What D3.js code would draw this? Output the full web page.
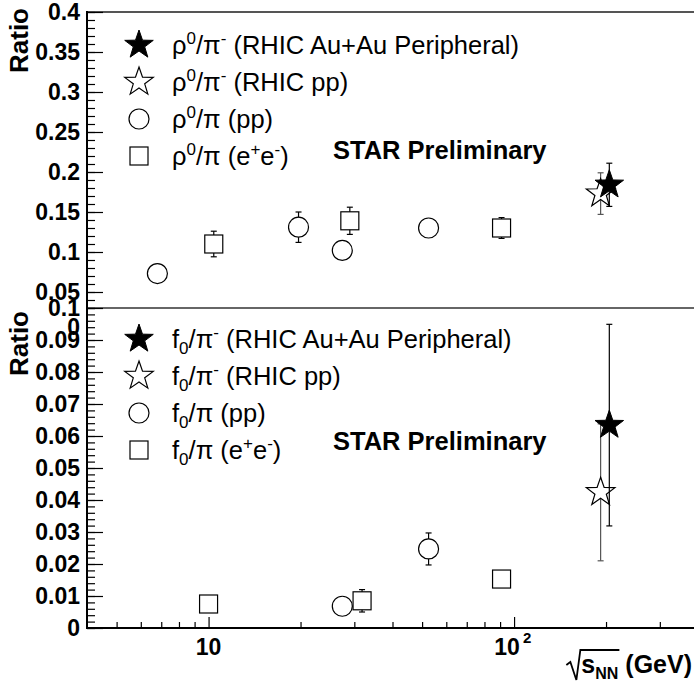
<!DOCTYPE html>
<html>
<head>
<meta charset="utf-8">
<title>rho0/pi and f0/pi ratios</title>
<script src="https://d3js.org/d3.v7.min.js"></script>
<style>
  body { margin: 0; background: #fff; }
  text { font-family: "Liberation Sans", Arial, Helvetica, sans-serif; fill: #000; }
</style>
</head>
<body>
<script>
// ---- top panel: rho0/pi ----
var rhoAuAuX = [205],   rhoAuAuY = [0.184],  rhoAuAuErr = [0.027];
var rhoRhicPpX = [192], rhoRhicPpY = [0.173], rhoRhicPpErr = [0.026];
var rhoPpX = [6.8, 19.7, 27.4, 52.5];
var rhoPpY = [0.073, 0.131, 0.102, 0.130];
var rhoPpErr = [0.003, 0.019, 0.004, 0.004];
var rhoEeX = [10.4, 29, 91];
var rhoEeY = [0.110, 0.139, 0.130];
var rhoEeErr = [0.016, 0.017, 0.013];

// ---- bottom panel: f0/pi ----
var f0AuAuX = [205],   f0AuAuY = [0.0634],  f0AuAuErr = [0.0315];
var f0RhicPpX = [192], f0RhicPpY = [0.0424], f0RhicPpErr = [0.0214];
var f0PpX = [27.4, 52.5];
var f0PpY = [0.0068, 0.0247];
var f0PpErr = [0.0005, 0.005];
var f0EeX = [10, 31.8, 91];
var f0EeY = [0.0075, 0.0085, 0.0153];
var f0EeErr = [0.0005, 0.0035, 0.001];

// ---- axes ----
var topYTicks = [0.05, 0.1, 0.15, 0.2, 0.25, 0.3, 0.35, 0.4];
var botYTicks = [0, 0.01, 0.02, 0.03, 0.04, 0.05, 0.06, 0.07, 0.08, 0.09, 0.1];
var xMajor = [10, 100];
var xMinor = [5, 6, 7, 8, 9, 20, 30, 40, 50, 60, 70, 80, 90, 200, 300];

var topLegend = [
  [["ρ"], ["0", "sup"], ["/π"], ["-", "sup"], [" (RHIC Au+Au Peripheral)"]],
  [["ρ"], ["0", "sup"], ["/π"], ["-", "sup"], [" (RHIC pp)"]],
  [["ρ"], ["0", "sup"], ["/π (pp)"]],
  [["ρ"], ["0", "sup"], ["/π (e"], ["+", "sup"], ["e"], ["-", "sup"], [")"]]
];
var botLegend = [
  [["f"], ["0", "sub"], ["/π"], ["-", "sup"], [" (RHIC Au+Au Peripheral)"]],
  [["f"], ["0", "sub"], ["/π"], ["-", "sup"], [" (RHIC pp)"]],
  [["f"], ["0", "sub"], ["/π (pp)"]],
  [["f"], ["0", "sub"], ["/π (e"], ["+", "sup"], ["e"], ["-", "sup"], [")"]]
];

var width = 694, height = 682;
var padL = 87, padR = 698, padT = 12, padMid = 308, padB = 628;
var tickFont = "23px";

var svg = d3.select("body").append("svg")
    .attr("width", width)
    .attr("height", height);
svg.append("rect").attr("width", width).attr("height", height).attr("fill", "#fff");

var x = d3.scaleLog().domain([4, 400]).range([padL, padR]);
var yTop = d3.scaleLinear().domain([0.03, 0.4]).range([padMid, padT]);
var yBot = d3.scaleLinear().domain([0, 0.1]).range([padB, padMid]);

function starPath(R) {
  var pts = [];
  for (var i = 0; i < 10; i++) {
    var r = i % 2 ? R * 0.4 : R;
    var a = -Math.PI / 2 + i * Math.PI / 5;
    pts.push([r * Math.cos(a), r * Math.sin(a)]);
  }
  return "M" + pts.map(p => p[0].toFixed(2) + "," + p[1].toFixed(2)).join("L") + "Z";
}

function marker(g, kind, cx, cy) {
  if (kind == "fstar") {
    g.append("path").attr("d", starPath(15)).attr("transform", `translate(${cx},${cy})`)
      .attr("fill", "#000").attr("stroke", "#000");
  } else if (kind == "ostar") {
    g.append("path").attr("d", starPath(15)).attr("transform", `translate(${cx},${cy})`)
      .attr("fill", "#fff").attr("stroke", "#000").attr("stroke-width", 1.2);
  } else if (kind == "circle") {
    g.append("circle").attr("cx", cx).attr("cy", cy).attr("r", 10)
      .attr("fill", "#fff").attr("stroke", "#000").attr("stroke-width", 1.2);
  } else {
    g.append("rect").attr("x", cx - 9).attr("y", cy - 9).attr("width", 18).attr("height", 18)
      .attr("fill", "#fff").attr("stroke", "#000").attr("stroke-width", 1.2);
  }
}

function drawSeries(g, y, xs, ys, errs, kind, col) {
  xs.forEach(function(xv, i) {
    var cx = x(xv), y0 = y(ys[i] - errs[i]), y1 = y(ys[i] + errs[i]);
    g.append("line").attr("x1", cx).attr("x2", cx).attr("y1", y0).attr("y2", y1)
      .attr("stroke", col).attr("stroke-width", 1.2);
    [y0, y1].forEach(function(yy) {
      g.append("line").attr("x1", cx - 3).attr("x2", cx + 3).attr("y1", yy).attr("y2", yy)
        .attr("stroke", col).attr("stroke-width", 1.2);
    });
  });
  xs.forEach(function(xv, i) { marker(g, kind, x(xv), y(ys[i])); });
}

function richText(g, parts, tx, ty, size) {
  var t = g.append("text").attr("x", tx).attr("y", ty).style("font-size", size + "px");
  var shift = 0;
  parts.forEach(function(p) {
    var want = p[1] == "sup" ? -10 : p[1] == "sub" ? 6 : 0;
    t.append("tspan").attr("dy", want - shift)
      .style("font-size", p[1] ? "17px" : size + "px")
      .text(p[0]);
    shift = want;
  });
  return t;
}

function legend(g, items, kinds, y0) {
  items.forEach(function(parts, i) {
    var cy = y0 + i * 37;
    marker(g, kinds[i], 139, cy);
    richText(g, parts, 172, cy + 9, 25.5);
  });
}

var kinds = ["fstar", "ostar", "circle", "square"];

// ---- top panel ----
var gt = svg.append("g");
drawSeries(gt, yTop, rhoPpX, rhoPpY, rhoPpErr, "circle", "#000");
drawSeries(gt, yTop, rhoEeX, rhoEeY, rhoEeErr, "square", "#000");
drawSeries(gt, yTop, rhoRhicPpX, rhoRhicPpY, rhoRhicPpErr, "ostar", "#555");
drawSeries(gt, yTop, rhoAuAuX, rhoAuAuY, rhoAuAuErr, "fstar", "#000");
legend(gt, topLegend, kinds, 45);
gt.append("text").attr("x", 333).attr("y", 159).style("font-size", "25.5px")
  .style("font-weight", "bold").text("STAR Preliminary");

// ---- bottom panel ----
var gb = svg.append("g");
drawSeries(gb, yBot, f0PpX, f0PpY, f0PpErr, "circle", "#000");
drawSeries(gb, yBot, f0EeX, f0EeY, f0EeErr, "square", "#000");
drawSeries(gb, yBot, f0RhicPpX, f0RhicPpY, f0RhicPpErr, "ostar", "#555");
drawSeries(gb, yBot, f0AuAuX, f0AuAuY, f0AuAuErr, "fstar", "#000");
legend(gb, botLegend, kinds, 339);
gb.append("text").attr("x", 333).attr("y", 450).style("font-size", "25.5px")
  .style("font-weight", "bold").text("STAR Preliminary");

// ---- frame lines ----
svg.append("line").attr("x1", padL).attr("x2", width).attr("y1", padT).attr("y2", padT)
  .attr("stroke", "#555").attr("stroke-width", 2);
svg.append("line").attr("x1", padL).attr("x2", width).attr("y1", padMid).attr("y2", padMid)
  .attr("stroke", "#666").attr("stroke-width", 2);

// ---- y axes ----
function yAxis(y, majors, minorStep) {
  var d = y.domain();
  var minors = d3.range(Math.round(d[0] / minorStep), Math.round(d[1] / minorStep) + 1)
    .map(k => k * minorStep);
  var g = svg.append("g").attr("transform", `translate(${padL},0)`);
  g.append("g").call(d3.axisLeft(y).tickValues(minors).tickFormat("").tickSize(-8).tickSizeOuter(0))
    .call(a => a.select(".domain").remove());
  g.append("g").call(d3.axisLeft(y).tickValues(majors).tickSize(-16).tickSizeOuter(0).tickPadding(7)
      .tickFormat(v => String(+v.toFixed(3))))
    .call(a => a.select(".domain").remove())
    .call(a => a.selectAll("text").style("font-size", tickFont).style("font-weight", "bold")
      .style("font-family", "'Liberation Sans', Arial, sans-serif"));
  g.selectAll(".tick line").attr("stroke", "#000").attr("stroke-width", 1.2);
}
yAxis(yTop, topYTicks, 0.01);
yAxis(yBot, botYTicks, 0.002);

// stray glyph overlapping the 0.09 label in the original
svg.append("text").attr("x", 80).attr("y", 335).attr("text-anchor", "end")
  .style("font-size", tickFont).style("font-weight", "bold").text("0");

svg.append("line").attr("x1", padL).attr("x2", padL).attr("y1", padT - 1).attr("y2", padB + 1)
  .attr("stroke", "#000").attr("stroke-width", 2);

// ---- x axis ----
var gx = svg.append("g").attr("transform", `translate(0,${padB})`);
gx.append("g").call(d3.axisBottom(x).tickValues(xMinor).tickFormat("").tickSize(-6).tickSizeOuter(0));
gx.append("g").call(d3.axisBottom(x).tickValues(xMajor).tickFormat("").tickSize(-11).tickSizeOuter(0));
gx.selectAll(".domain").remove();
gx.selectAll(".tick line").attr("stroke", "#000").attr("stroke-width", 1.2);
svg.append("line").attr("x1", padL).attr("x2", width).attr("y1", padB).attr("y2", padB)
  .attr("stroke", "#000").attr("stroke-width", 2);

svg.append("text").attr("x", x(10)).attr("y", 655).attr("text-anchor", "middle")
  .style("font-size", tickFont).style("font-weight", "bold").text("10");
svg.append("text").attr("x", x(100) - 7).attr("y", 655).attr("text-anchor", "middle")
  .style("font-size", tickFont).style("font-weight", "bold").text("10");
svg.append("text").attr("x", x(100) + 13).attr("y", 643).attr("text-anchor", "middle")
  .style("font-size", "15px").style("font-weight", "bold").text("2");

// x title with radical sign
var xt = svg.append("text").attr("text-anchor", "end").attr("x", 692).attr("y", 673)
  .style("font-size", "25px").style("font-weight", "bold");
var ts = xt.append("tspan").text("s");
var tn = xt.append("tspan").attr("dy", 6).style("font-size", "16px").text("NN");
xt.append("tspan").attr("dy", -6).text(" (GeV)");
var full = xt.node().getComputedTextLength();
var sx = 692 - full;
var rw = ts.node().getComputedTextLength() + tn.node().getComputedTextLength();
svg.append("path")
  .attr("d", `M${sx - 15},665 L${sx - 11},662 L${sx - 5},680 L${sx - 1},650 L${sx + rw + 1},650`)
  .attr("fill", "none").attr("stroke", "#000").attr("stroke-width", 1.8);

// y titles
svg.append("text").attr("transform", "translate(28,8) rotate(-90)").attr("text-anchor", "end")
  .style("font-size", "26px").style("font-weight", "bold").text("Ratio");
svg.append("text").attr("transform", "translate(28,311) rotate(-90)").attr("text-anchor", "end")
  .style("font-size", "26px").style("font-weight", "bold").text("Ratio");
</script>
</body>
</html>
